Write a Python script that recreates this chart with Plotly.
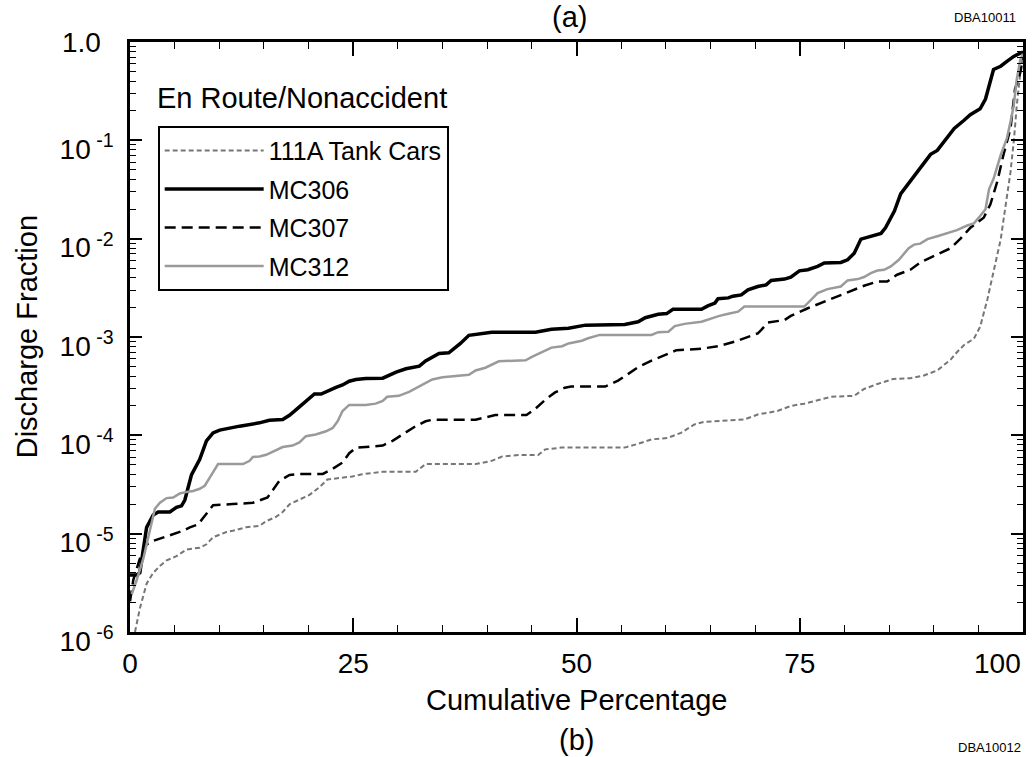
import plotly.graph_objects as go

# cumulative percentage / discharge fraction
x_111a = [0.56, 1.1, 1.86, 2.6, 3.35, 4.1, 5.2, 6.33, 7.81, 8.56, 9.3, 10.8, 11.5, 13.0, 14.5,
          15.25, 16.4, 17.1, 17.86, 18.97, 20.1, 21.2, 22.1, 23.4, 24.9, 26.0, 28.3, 32.0, 33.1, 38.7,
          40.5, 41.7, 43.5, 45.7, 46.5, 48.3, 55.4, 56.9, 58.4, 60.2, 61.7, 63.2, 64.3, 68.8, 70.3,
          72.5, 74.0, 75.5, 77.3, 78.5, 81.1, 82.2, 83.7, 85.5, 87.4, 88.9, 90.4, 91.9, 92.6, 93.4,
          94.5, 95.2, 96.0, 96.7, 97.5, 98.0, 98.6, 99.0, 99.3, 99.7, 100]
y_111a = [1.0e-6, 1.73e-6, 3.1e-6, 4.0e-6, 4.7e-6, 5.35e-6, 5.9e-6, 6.9e-6, 7.2e-6, 7.8e-6, 9.2e-6, 1.04e-5, 1.07e-5, 1.16e-5, 1.2e-5,
          1.34e-5, 1.49e-5, 1.66e-5, 1.99e-5, 2.2e-5, 2.48e-5, 2.96e-5, 3.55e-5, 3.68e-5, 3.82e-5, 4.02e-5, 4.26e-5, 4.26e-5, 5.1e-5, 5.1e-5,
          5.5e-5, 6.1e-5, 6.3e-5, 6.3e-5, 7.2e-5, 7.5e-5, 7.5e-5, 8.2e-5, 9.1e-5, 9.4e-5, 1.06e-4, 1.29e-4, 1.37e-4, 1.45e-4, 1.63e-4,
          1.77e-4, 1.99e-4, 2.1e-4, 2.33e-4, 2.47e-4, 2.52e-4, 2.96e-4, 3.33e-4, 3.75e-4, 3.81e-4, 4.06e-4, 4.57e-4, 5.9e-4, 7.0e-4, 8.3e-4,
          9.6e-4, 1.27e-3, 2.39e-3, 4.46e-3, 9.8e-3, 2.02e-2, 4.75e-2, 0.105, 0.225, 0.49, 0.72]

x_mc306 = [0, 0.75, 1.1, 1.86, 2.6, 3.16, 4.46, 5.2, 5.77, 6.14, 6.88, 7.81, 8.56, 9.3, 10.04,
           10.8, 12.28, 14.5, 15.6, 17.1, 17.86, 18.97, 20.1, 20.65, 21.4, 22.3, 23.07, 23.8, 24.55, 25.3,
           26.4, 28.3, 29.8, 30.9, 32.4, 33.1, 34.6, 35.7, 37.0, 37.95, 39.8, 40.5, 45.4, 47.2, 49.1,
           51.0, 55.4, 56.9, 57.7, 59.15, 60.1, 60.8, 64.0, 64.7, 65.5, 65.85, 67.0, 67.5, 68.45, 69.2,
           70.3, 71.24, 71.8, 73.3, 74.0, 74.96, 75.9, 77.0, 77.75, 79.6, 80.36, 81.1, 81.85, 82.6, 84.1,
           84.6, 85.6, 86.3, 87.05, 88.2, 89.65, 90.4, 91.5, 92.3, 93.4, 94.1, 95.2, 95.8, 96.7, 97.5,
           98.2, 98.96, 99.7, 100]
y_mc306 = [3.8e-6, 3.8e-6, 4.0e-6, 1.16e-5, 1.55e-5, 1.66e-5, 1.66e-5, 1.85e-5, 1.92e-5, 2.2e-5, 3.95e-5, 5.7e-5, 8.8e-5, 1.06e-4, 1.13e-4,
           1.17e-4, 1.24e-4, 1.34e-4, 1.42e-4, 1.45e-4, 1.6e-4, 1.95e-4, 2.43e-4, 2.63e-4, 2.63e-4, 2.89e-4, 3.08e-4, 3.25e-4, 3.55e-4, 3.69e-4,
           3.78e-4, 3.81e-4, 4.4e-4, 4.75e-4, 5.05e-4, 5.7e-4, 6.8e-4, 6.9e-4, 8.6e-4, 1.04e-3, 1.09e-3, 1.12e-3, 1.12e-3, 1.2e-3, 1.23e-3,
           1.32e-3, 1.34e-3, 1.43e-3, 1.57e-3, 1.7e-3, 1.73e-3, 1.91e-3, 1.91e-3, 2.07e-3, 2.21e-3, 2.45e-3, 2.5e-3, 2.6e-3, 2.68e-3, 3.02e-3,
           3.26e-3, 3.39e-3, 3.76e-3, 3.88e-3, 4.07e-3, 4.71e-3, 4.83e-3, 5.22e-3, 5.65e-3, 5.73e-3, 6.1e-3, 7.1e-3, 9.9e-3, 1.04e-2, 1.13e-2,
           1.29e-2, 1.91e-2, 2.85e-2, 3.52e-2, 4.94e-2, 7.2e-2, 7.9e-2, 0.105, 0.132, 0.16, 0.182, 0.209, 0.263, 0.525, 0.567,
           0.636, 0.713, 0.77, 0.79]

x_mc307 = [0, 0.37, 1.1, 1.86, 2.6, 3.72, 4.83, 5.95, 6.7, 7.62, 8.18, 8.93, 9.3, 11.5, 13.76,
           15.4, 16.0, 16.7, 17.86, 18.97, 21.6, 22.7, 23.8, 24.55, 25.3, 26.4, 28.3, 29.4, 30.5, 32.0,
           33.1, 33.85, 38.7, 40.9, 44.4, 45.35, 46.5, 47.6, 48.7, 49.4, 53.2, 54.65, 55.8, 56.9, 58.4,
           60.4, 61.2, 64.0, 65.85, 67.7, 69.2, 70.3, 70.7, 71.4, 73.3, 74.0, 75.9, 77.75, 79.2, 80.7,
           82.2, 83.7, 84.8, 85.9, 87.4, 88.5, 90.0, 91.9, 93.0, 94.1, 95.6, 96.35, 97.1, 97.8, 98.6,
           99.1, 99.7, 100]
y_mc307 = [2.05e-6, 3.38e-6, 5.57e-6, 7.8e-6, 8.45e-6, 9.2e-6, 1.0e-5, 1.07e-5, 1.16e-5, 1.24e-5, 1.44e-5, 1.79e-5, 1.95e-5, 2.0e-5, 2.06e-5,
           2.33e-5, 2.75e-5, 3.43e-5, 3.96e-5, 4.05e-5, 4.05e-5, 4.57e-5, 5.29e-5, 6.58e-5, 7.48e-5, 7.6e-5, 7.87e-5, 8.8e-5, 1.02e-4, 1.24e-4,
           1.39e-4, 1.44e-4, 1.44e-4, 1.61e-4, 1.61e-4, 1.85e-4, 2.3e-4, 2.73e-4, 3.05e-4, 3.13e-4, 3.13e-4, 3.6e-4, 4.22e-4, 4.94e-4, 5.75e-4,
           6.8e-4, 7.35e-4, 7.6e-4, 8.07e-4, 8.95e-4, 1.0e-3, 1.09e-3, 1.18e-3, 1.4e-3, 1.49e-3, 1.64e-3, 1.96e-3, 2.29e-3, 2.58e-3, 2.97e-3,
           3.32e-3, 3.67e-3, 3.67e-3, 4.3e-3, 4.83e-3, 5.73e-3, 6.6e-3, 8.0e-3, 1.0e-2, 1.29e-2, 1.63e-2, 2.24e-2, 3.75e-2, 7.05e-2, 0.132,
           0.33, 0.49, 0.7]

x_mc312 = [0.19, 0.75, 1.49, 2.23, 2.79, 3.35, 4.1, 4.83, 5.58, 6.33, 7.07, 7.81, 8.37, 9.12, 9.86,
           12.65, 13.4, 13.76, 14.5, 15.25, 16.4, 17.1, 18.2, 18.97, 19.7, 20.8, 21.95, 22.7, 23.25, 23.8,
           24.55, 26.4, 27.5, 28.3, 28.8, 30.1, 31.25, 32.4, 33.1, 33.85, 35.0, 36.46, 37.95, 38.7, 39.8,
           41.3, 44.3, 45.0, 46.5, 47.2, 48.4, 49.1, 50.6, 51.3, 52.6, 58.4, 59.15, 60.3, 61.0, 62.1,
           64.0, 65.1, 66.0, 67.0, 68.1, 68.8, 75.5, 76.26, 77.0, 78.1, 79.6, 80.36, 81.5, 82.2, 82.96,
           83.7, 84.45, 85.2, 86.1, 87.2, 87.8, 88.5, 89.3, 90.4, 91.5, 92.6, 93.75, 94.5, 95.2, 95.8,
           96.2, 96.7, 97.5, 98.2, 98.6, 98.96, 99.3, 99.7, 100]
y_mc312 = [2.42e-6, 3.38e-6, 5.57e-6, 1.07e-5, 1.79e-5, 2.06e-5, 2.3e-5, 2.33e-5, 2.56e-5, 2.66e-5, 2.72e-5, 2.86e-5, 3.07e-5, 3.96e-5, 5.1e-5,
           5.1e-5, 5.5e-5, 6.03e-5, 6.1e-5, 6.34e-5, 7.07e-5, 7.6e-5, 7.87e-5, 8.47e-5, 9.8e-5, 1.02e-4, 1.1e-4, 1.19e-4, 1.39e-4, 1.77e-4,
           2.04e-4, 2.04e-4, 2.1e-4, 2.24e-4, 2.47e-4, 2.52e-4, 2.77e-4, 3.15e-4, 3.4e-4, 3.7e-4, 3.9e-4, 4.02e-4, 4.12e-4, 4.57e-4, 4.87e-4,
           5.66e-4, 5.8e-4, 6.27e-4, 7.2e-4, 7.8e-4, 8.07e-4, 8.6e-4, 9.16e-4, 9.7e-4, 1.05e-3, 1.05e-3, 1.12e-3, 1.13e-3, 1.29e-3, 1.36e-3,
           1.43e-3, 1.55e-3, 1.64e-3, 1.72e-3, 1.81e-3, 2.04e-3, 2.04e-3, 2.39e-3, 2.79e-3, 3.07e-3, 3.26e-3, 3.76e-3, 3.88e-3, 4.07e-3, 4.46e-3,
           4.74e-3, 4.83e-3, 5.22e-3, 6.1e-3, 8.0e-3, 8.7e-3, 8.9e-3, 9.9e-3, 1.06e-2, 1.13e-2, 1.22e-2, 1.36e-2, 1.43e-2, 1.7e-2, 1.99e-2,
           3.2e-2, 4.06e-2, 7.05e-2, 0.105, 0.154, 0.225, 0.417, 0.66, 0.76]

# tick labels; the two end labels ("100" and "1.0") sit off-centre in the original and are placed by hand
x_ticks = [0, 25, 50, 75, 100]
x_ticktext = ["0", "25", "50", "75", ""]
y_ticks = [1e-6, 1e-5, 1e-4, 1e-3, 1e-2, 1e-1, 1]
y_ticktext = ["10<sup> -6</sup>", "10<sup> -5</sup>", "10<sup> -4</sup>", "10<sup> -3</sup>",
              "10<sup> -2</sup>", "10<sup> -1</sup>", ""]

FONT = "Liberation Sans, Arial, Helvetica, sans-serif"

fig = go.Figure()
fig.add_trace(go.Scatter(x=x_111a, y=y_111a, mode="lines", name="111A Tank Cars", legendgroup="a",
                         line=dict(color="#767676", width=2, dash="5px,3px")))
fig.add_trace(go.Scatter(x=x_mc306, y=y_mc306, mode="lines", name="MC306", legendgroup="b",
                         line=dict(color="black", width=3.5)))
fig.add_trace(go.Scatter(x=x_mc307, y=y_mc307, mode="lines", name="MC307", legendgroup="c",
                         line=dict(color="black", width=2.5, dash="11px,6px")))
fig.add_trace(go.Scatter(x=x_mc312, y=y_mc312, mode="lines", name="MC312", legendgroup="d",
                         line=dict(color="#9a9a9a", width=2.5)))

fig.update_layout(
    width=1033, height=757,
    margin=dict(l=130, r=7, t=42, b=125),
    paper_bgcolor="white", plot_bgcolor="white",
    font=dict(family=FONT, size=28, color="black"),
    showlegend=True,
    legend=dict(x=0.031, y=0.858, xanchor="left", yanchor="top",
                bgcolor="white", bordercolor="black", borderwidth=2,
                font=dict(size=25), itemwidth=99, tracegroupgap=3,
                traceorder="grouped"),
)

fig.update_xaxes(range=[0, 100], tickmode="array", tickvals=x_ticks, ticktext=x_ticktext,
                 ticks="inside", ticklen=14, tickwidth=1.5, tickcolor="black",
                 showline=True, linewidth=2.5, linecolor="black", mirror="ticks",
                 showgrid=False, zeroline=False, ticklabelstandoff=5,
                 tickfont=dict(size=28),
                 minor=dict(dtick=5, ticks="inside", ticklen=7, tickwidth=1.2,
                            tickcolor="black", showgrid=False))
fig.update_yaxes(type="log", range=[-6, 0], tickmode="array", tickvals=y_ticks, ticktext=y_ticktext,
                 ticks="inside", ticklen=12, tickwidth=1.5, tickcolor="black",
                 showline=True, linewidth=2.5, linecolor="black", mirror="ticks",
                 showgrid=False, zeroline=False, ticklabelstandoff=8, ticklabelshift=9,
                 tickfont=dict(size=28),
                 minor=dict(dtick="D1", ticks="inside", ticklen=6, tickwidth=1.2,
                            tickcolor="black", showgrid=False))

fig.add_annotation(text=str(x_ticks[-1]), xref="x", yref="paper", x=x_ticks[-1], y=-0.054,
                   xanchor="right", yanchor="middle", showarrow=False, font=dict(size=28))
fig.add_annotation(text="1.0", xref="paper", yref="y", x=-0.03, y=0,  # log axis: y=0 -> 1.0
                   xanchor="right", yanchor="middle", showarrow=False, font=dict(size=28))

# texts around the frame
fig.add_annotation(text="En Route/Nonaccident", xref="paper", yref="paper", x=0.028, y=0.905,
                   xanchor="left", yanchor="middle", showarrow=False, font=dict(size=29))
fig.add_annotation(text="Discharge Fraction", xref="paper", yref="paper", x=-0.115, y=0.5,
                   textangle=-90, xanchor="center", yanchor="middle", showarrow=False, font=dict(size=29))
fig.add_annotation(text="Cumulative Percentage", xref="paper", yref="paper", x=0.5, y=-0.115,
                   xanchor="center", yanchor="middle", showarrow=False, font=dict(size=29))
fig.add_annotation(text="(a)", xref="paper", yref="paper", x=0.492, y=1.043,
                   xanchor="center", yanchor="middle", showarrow=False, font=dict(size=29))
fig.add_annotation(text="(b)", xref="paper", yref="paper", x=0.5, y=-0.183,
                   xanchor="center", yanchor="middle", showarrow=False, font=dict(size=29))
fig.add_annotation(text="DBA10011", xref="paper", yref="paper", x=0.958, y=1.042,
                   xanchor="center", yanchor="middle", showarrow=False, font=dict(size=13))
fig.add_annotation(text="DBA10012", xref="paper", yref="paper", x=0.962, y=-0.195,
                   xanchor="center", yanchor="middle", showarrow=False, font=dict(size=13))

# the page's default body margin would push the figure off the window
fig.write_html("out.html", config={"displayModeBar": False},
               post_script="document.body.style.margin='0';")
